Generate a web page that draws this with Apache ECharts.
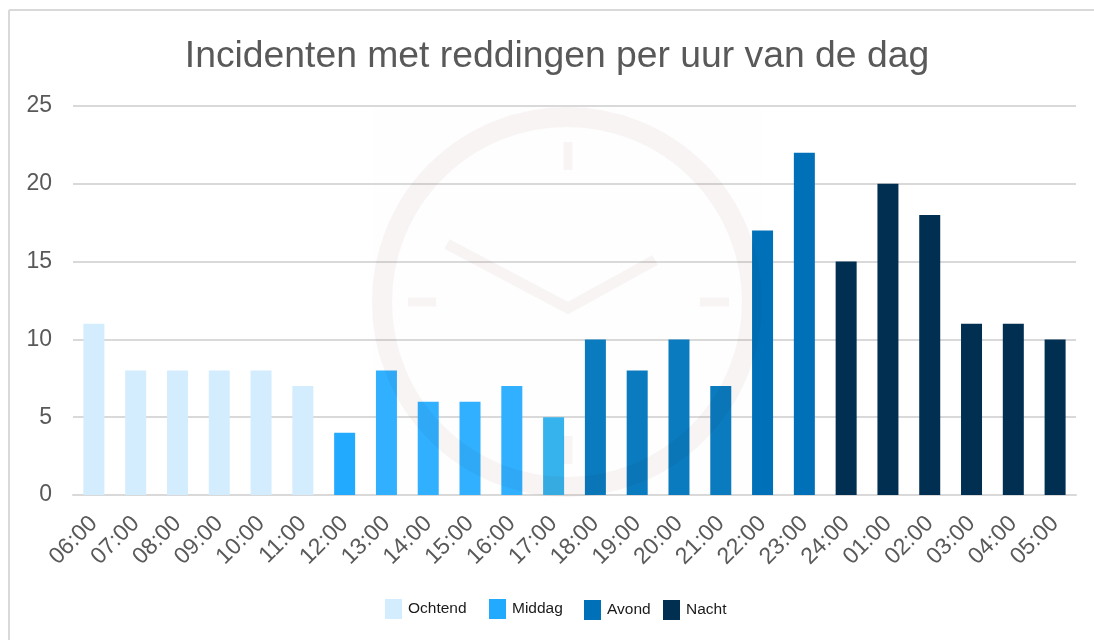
<!DOCTYPE html>
<html><head><meta charset="utf-8">
<style>html,body{margin:0;padding:0;background:#fff}#c{width:1094px;height:640px}</style>
<script src="https://cdn.jsdelivr.net/npm/echarts@6/dist/echarts.min.js"></script></head>
<body><div id="c"></div>
<script>
const categories=['06:00','07:00','08:00','09:00','10:00','11:00','12:00','13:00','14:00','15:00','16:00','17:00','18:00','19:00','20:00','21:00','22:00','23:00','24:00','01:00','02:00','03:00','04:00','05:00'];
const ochtend=[11,8,8,8,8,7,null,null,null,null,null,null,null,null,null,null,null,null,null,null,null,null,null,null];
const middag=[null,null,null,null,null,null,4,8,6,6,7,5,null,null,null,null,null,null,null,null,null,null,null,null];
const avond=[null,null,null,null,null,null,null,null,null,null,null,null,10,8,10,7,17,22,null,null,null,null,null,null];
const nacht=[null,null,null,null,null,null,null,null,null,null,null,null,null,null,null,null,null,null,15,20,18,11,11,10];
const seriesNames=['Ochtend','Middag','Avond','Nacht'];
const seriesColors=['#d3edff','#22aaff','#0070b8','#002f52'];
const middagBarColors=[null,null,null,null,null,null,'#22aaff','#30b0ff','#30b0ff','#30b0ff','#30b0ff','#36b2ec'];
const avondBarColors=[null,null,null,null,null,null,null,null,null,null,null,null,'#0b7bbf','#0b7bbf','#0b7bbf','#0b7bbf','#0070b8','#0070b8'];
const font='"Liberation Sans", Arial, sans-serif';
const wm='#f9f5f5';
const wmStyle=(w)=>({fill:'none',stroke:wm,lineWidth:w,blend:'multiply'});
const styled=(vals,cols)=>vals.map((v,i)=>(cols&&cols[i])?{value:v,itemStyle:{color:cols[i]}}:v);
const mk=(name,data,color,cols)=>({name,type:'bar',data:styled(data,cols),stack:'a',barWidth:21,itemStyle:{color}});
const lg=(name,left,top)=>({data:[name],left,top,icon:'rect',itemWidth:17,itemHeight:20,
  textStyle:{fontFamily:font,fontSize:15.5,color:'#1a1a1a',padding:[0,0,0,1]}});
const chart=echarts.init(document.getElementById('c'),null,{renderer:'canvas'});
chart.setOption({
 animation:false,backgroundColor:'#fff',
 title:{text:'Incidenten met reddingen per uur van de dag',left:552,top:33,textAlign:'center',
  textStyle:{fontFamily:font,fontSize:37.3,fontWeight:'normal',color:'#595959'}},
 legend:[lg(seriesNames[0],380,594),lg(seriesNames[1],484,594),lg(seriesNames[2],579,595),lg(seriesNames[3],658,595)],
 grid:{left:73,right:18,top:106,bottom:145,containLabel:false},
 xAxis:{type:'category',data:categories,
  axisLine:{lineStyle:{color:'#d9d9d9',width:2}},axisTick:{show:false},
  axisLabel:{rotate:45,interval:0,margin:25,fontFamily:font,fontSize:23,color:'#595959'}},
 yAxis:{type:'value',min:0,max:25,interval:5,axisLine:{show:false},axisTick:{show:false},
  splitLine:{lineStyle:{color:'#d9d9d9',width:2}},
  axisLabel:{margin:21,fontFamily:font,fontSize:23,color:'#595959',padding:[2,0,0,0]}},
 series:[mk(seriesNames[0],ochtend,seriesColors[0]),mk(seriesNames[1],middag,seriesColors[1],middagBarColors),mk(seriesNames[2],avond,seriesColors[2],avondBarColors),mk(seriesNames[3],nacht,seriesColors[3])],
 graphic:[
  {type:'line',z:-10,shape:{x1:9,y1:10,x2:1094,y2:10},style:{stroke:'#d9d9d9',lineWidth:2}},
  {type:'line',z:-10,shape:{x1:9,y1:10,x2:9,y2:640},style:{stroke:'#d9d9d9',lineWidth:2}},
  {type:'rect',z:-5,shape:{x:373,y:107,width:388,height:388},style:{fill:'#fefefe'}},
  {type:'circle',z:50,silent:true,shape:{cx:567,cy:302,r:185},style:wmStyle(20)},
  {type:'line',z:50,silent:true,shape:{x1:568,y1:142,x2:568,y2:170},style:wmStyle(9)},
  {type:'line',z:50,silent:true,shape:{x1:408,y1:302,x2:436,y2:302},style:wmStyle(9)},
  {type:'line',z:50,silent:true,shape:{x1:700,y1:302,x2:729,y2:302},style:wmStyle(9)},
  {type:'line',z:50,silent:true,shape:{x1:568,y1:436,x2:568,y2:464},style:wmStyle(9)},
  {type:'polyline',z:50,silent:true,shape:{points:[[447,244],[568,308],[655,260]]},style:wmStyle(11)}
 ]
});
</script></body></html>
